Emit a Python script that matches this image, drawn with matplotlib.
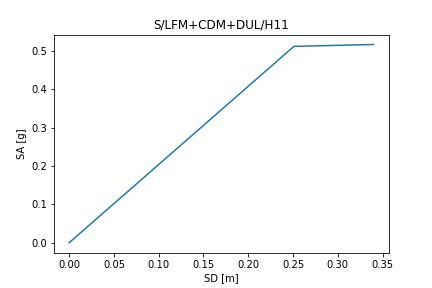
import matplotlib
matplotlib.use("Agg")
import matplotlib.pyplot as plt

sd = [0.0, 0.251, 0.340]
sa = [0.0, 0.512, 0.517]

fig = plt.figure(figsize=(6, 4), dpi=72)
ax = fig.add_subplot(111)
fig.subplots_adjust(left=0.125, right=0.9, top=0.88, bottom=0.123)
ax.plot(sd, sa)
ax.set_title("S/LFM+CDM+DUL/H11")
ax.set_xlabel("SD [m]")
ax.set_ylabel("SA [g]")
fig.savefig("out.png", dpi=72)
